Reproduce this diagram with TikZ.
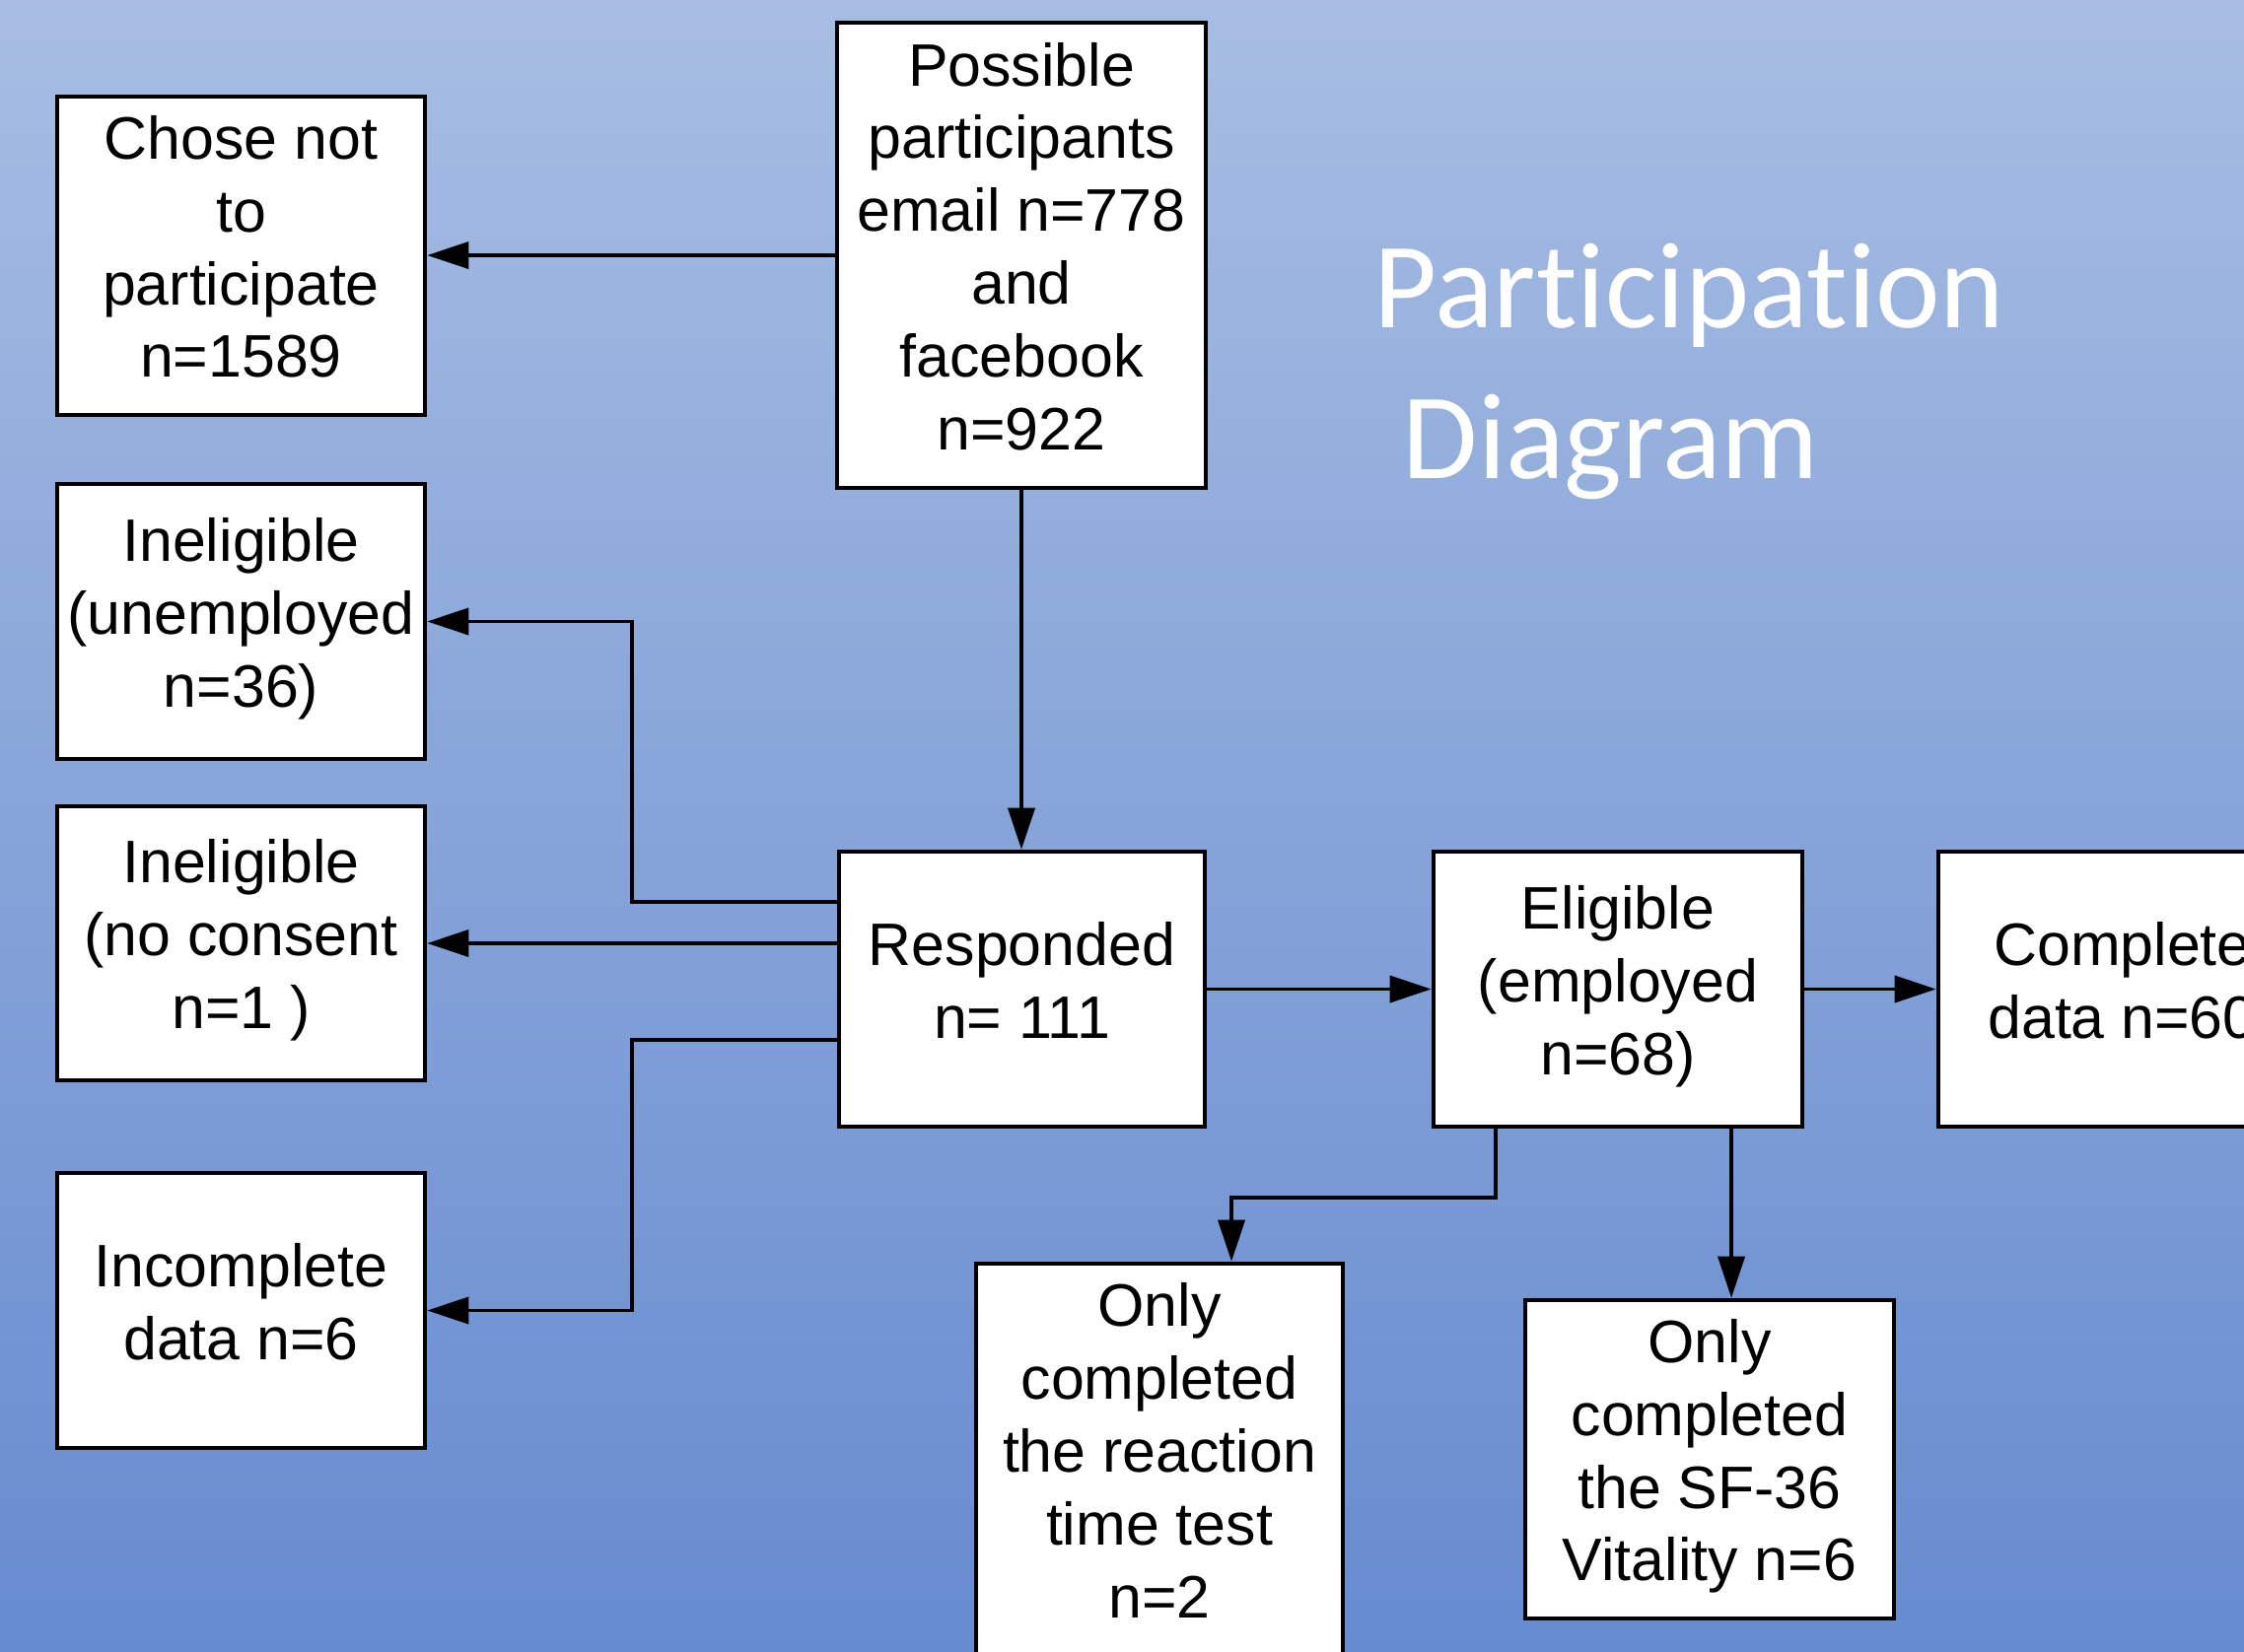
\documentclass[tikz,border=0pt]{standalone}
\usepackage{fontspec}
\setmainfont{Liberation Sans}
\newfontfamily\titlefont{Carlito}[Ligatures=NoCommon]
\usetikzlibrary{arrows.meta,calc}
\definecolor{bgtop}{RGB}{167,189,227}
\definecolor{bgbot}{RGB}{102,139,207}
\newcommand{\bs}{\rule[-6.9pt]{0pt}{21pt}}
\tikzset{
  flowbox/.style={draw=black, line width=1.25pt, fill=white, inner sep=0pt,
    align=center, font=\fontsize{17.3}{21}\selectfont, minimum width=3.73cm},
  arr/.style={line width=1.05pt, -{Triangle[length=0.42cm,width=0.27cm]}},
  titletext/.style={text=white, inner sep=0pt, anchor=base west,
    font=\titlefont\fontsize{35.3}{42}\selectfont}
}
\begin{document}
\begin{tikzpicture}[x=0.01cm,y=-0.01cm]
\useasboundingbox (0,0) rectangle (2276,1675);
\clip (0,0) rectangle (2276,1675);
\shade[top color=bgtop, bottom color=bgbot] (0,0) rectangle (2276,1675);

\node[flowbox, minimum height=3.23cm] (chose) at (244.5,259.5) {\bs Chose not\\to\\participate\\n=1589\bs};
\node[flowbox, minimum height=4.72cm, minimum width=3.74cm] (poss) at (1036,259) {\bs Possible\\participants\\email n=778\\and\\facebook\\n=922\bs};
\node[flowbox, minimum height=2.79cm] (unemp) at (244.5,630.5) {\bs Ineligible\\(unemployed\\n=36)\bs};
\node[flowbox, minimum height=2.78cm] (nocons) at (244.5,957) {\bs Ineligible\\(no consent\\n=1 )\bs};
\node[flowbox, minimum height=2.79cm] (incomp) at (244.5,1329.5) {\bs Incomplete\\data n=6\bs};
\node[flowbox, minimum height=2.79cm, minimum width=3.71cm] (resp) at (1036.5,1003.5) {\bs Responded\\n= 111\bs};
\node[flowbox, minimum height=2.79cm, minimum width=3.74cm] (elig) at (1641,1003.5) {\bs Eligible\\(employed\\n=68)\bs};
\node[flowbox, minimum height=2.79cm] (comp) at (2152.5,1003.5) {\bs Complete\\data n=60\bs};
\node[flowbox, minimum height=3.98cm, minimum width=3.72cm] (react) at (1176,1481) {\bs Only\\completed\\the reaction\\time test\\n=2\bs};
\node[flowbox, minimum height=3.23cm, minimum width=3.74cm] (sf) at (1734,1480.5) {\bs Only\\completed\\the SF-36\\Vitality n=6\bs};

\node[titletext] (title1) at (1393,332) {Participation};
\node[titletext] (title2) at (1422,485) {Diagram};

\coordinate (jx) at (641,0);

\draw[arr] (poss.west) -- (poss.west -| chose.east);
\draw[arr] (poss.south) -- (poss.south |- resp.north);
\draw[arr] ([yshift=0.885cm]resp.west) -| (jx |- unemp.east) -- (unemp.east);
\draw[arr] (nocons.east -| resp.west) -- (nocons.east);
\draw[arr] ([yshift=-0.515cm]resp.west) -| (jx |- incomp.east) -- (incomp.east);
\draw[arr] (resp.east) -- (elig.west);
\draw[arr] (elig.east) -- (comp.west);
\draw[arr] ([xshift=-1.24cm]elig.south) -- ++(0,70) -| ([xshift=0.73cm]react.north);
\draw[arr] ([xshift=1.15cm]elig.south) -- ([xshift=1.15cm]elig.south |- sf.north);
\end{tikzpicture}
\end{document}
